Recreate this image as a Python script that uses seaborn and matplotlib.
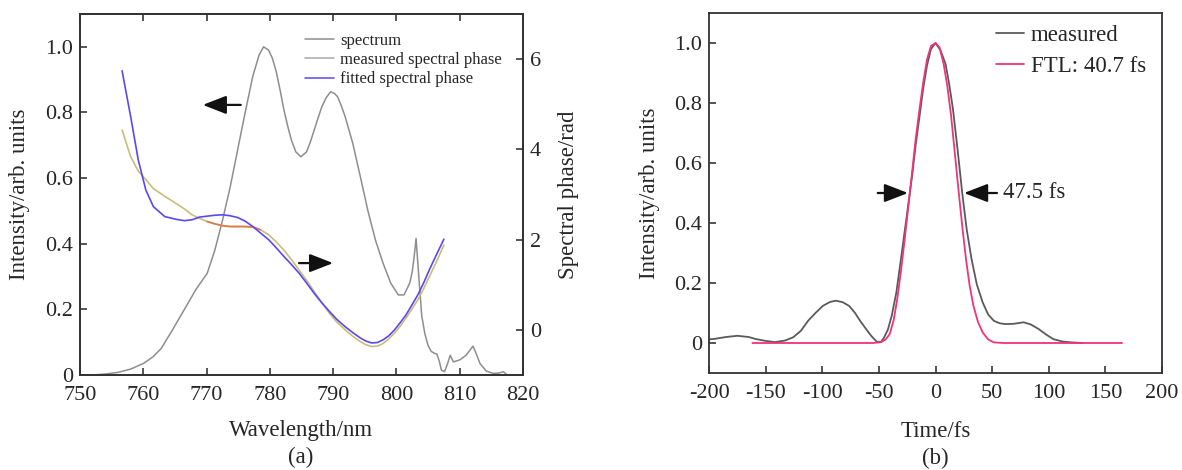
import numpy as np
import pandas as pd
import matplotlib
matplotlib.use("Agg")
import matplotlib.pyplot as plt
import seaborn as sns
from matplotlib.lines import Line2D

# ---------------- data: panel (a) ----------------
spec_wl = [752, 754, 756, 758, 760.1, 761.5, 762.8, 764.6, 766.5, 768.3, 770.1, 771.3,
           772.5, 773.7, 774.9, 776.1, 777.3, 778.3, 779.0, 779.8, 780.4, 781.0, 781.6,
           782.2, 782.8, 783.4, 784.1, 784.9, 785.8, 786.4, 787.0, 787.6, 788.2, 788.9,
           789.6, 790.2, 790.7, 791.3, 791.9, 793.1, 794.3, 795.5, 796.7, 797.9, 799.1,
           800.3, 801.2, 802.1, 802.5, 802.8, 803.1, 803.5, 804.0, 804.5, 805.0, 805.5,
           806.0, 806.4, 806.8, 807.1, 807.6, 808.0, 808.5, 809.0, 810.0, 811.0, 812.1,
           812.6, 813.2, 814.2, 815.3, 816.2, 816.9, 817.5]
spec_int = [0.0, 0.003, 0.008, 0.018, 0.036, 0.055, 0.08, 0.137, 0.20, 0.26, 0.31, 0.38,
            0.47, 0.57, 0.685, 0.80, 0.91, 0.975, 1.0, 0.99, 0.965, 0.925, 0.87,
            0.81, 0.76, 0.716, 0.68, 0.665, 0.68, 0.71, 0.746, 0.782, 0.817, 0.845,
            0.863, 0.858, 0.848, 0.82, 0.787, 0.706, 0.604, 0.50, 0.41, 0.34, 0.28,
            0.244, 0.244, 0.28, 0.315, 0.36, 0.416, 0.31, 0.18, 0.125, 0.09, 0.072,
            0.066, 0.064, 0.04, 0.015, 0.01, 0.03, 0.06, 0.04, 0.046, 0.06, 0.088,
            0.065, 0.035, 0.012, 0.005, 0.006, 0.01, 0.0]

phase_wl = [756.65, 758.0, 759.2, 760.4, 761.6, 763.4, 765.2, 766.5, 767.7, 768.9,
            770.1, 771.3, 772.5, 773.7, 774.9, 776.1, 777.3, 778.5, 779.8, 781.0,
            782.2, 783.4, 784.6, 785.8, 787.0, 788.2, 789.4, 790.6, 791.9, 793.1,
            794.3, 795.2, 796.1, 797.0, 797.9, 798.8, 799.7, 800.6, 801.5, 802.4,
            803.4, 804.3, 805.2, 806.3, 807.5]
phase_fit = [5.74, 4.73, 3.77, 3.10, 2.73, 2.51, 2.45, 2.42, 2.44, 2.50,
             2.52, 2.54, 2.55, 2.53, 2.49, 2.41, 2.29, 2.15, 2.00, 1.82,
             1.63, 1.45, 1.26, 1.04, 0.81, 0.60, 0.41, 0.23, 0.07, -0.06,
             -0.18, -0.25, -0.29, -0.28, -0.22, -0.13, 0.0, 0.16, 0.33, 0.54,
             0.78, 1.04, 1.33, 1.66, 2.01]
phase_meas = [4.43, 3.84, 3.52, 3.33, 3.13, 2.96, 2.80, 2.68, 2.55, 2.47,
              2.40, 2.35, 2.31, 2.29, 2.29, 2.29, 2.28, 2.22, 2.11, 1.95,
              1.77, 1.56, 1.33, 1.10, 0.85, 0.61, 0.37, 0.17, 0.0, -0.14,
              -0.26, -0.33, -0.37, -0.36, -0.30, -0.20, -0.07, 0.08, 0.26, 0.45,
              0.67, 0.91, 1.18, 1.50, 1.88]

# ---------------- data: panel (b) ----------------
t_meas = [-200, -194.6, -185, -175, -165, -158.5, -150, -142, -133, -125.7, -119, -112.5,
          -106, -99.4, -93, -87.9, -82, -76.4, -71, -66.6, -61, -56.8, -51.8, -48,
          -45.3, -42, -38.7, -34.5, -30.5, -25.5, -20.7, -17.5, -14.1, -10.8, -7.5, -4,
          0, 4.5, 8.9, 12, 15.4, 19.5, 23.6, 27.5, 31.8, 36.5, 41.7, 46.5, 51.5, 56.5,
          61.4, 69, 77.8, 84, 90.9, 97, 104, 112, 120, 130]
i_meas = [0.012, 0.014, 0.02, 0.024, 0.02, 0.013, 0.007, 0.003, 0.008, 0.019, 0.04, 0.074,
          0.1, 0.124, 0.137, 0.141, 0.136, 0.124, 0.1, 0.074, 0.045, 0.024, 0.004, 0.004,
          0.019, 0.045, 0.09, 0.17, 0.28, 0.42, 0.556, 0.66, 0.756, 0.85, 0.925, 0.98,
          1.0, 0.975, 0.93, 0.865, 0.78, 0.645, 0.5, 0.38, 0.28, 0.195, 0.135, 0.095, 0.074, 0.066,
          0.063, 0.064, 0.069, 0.062, 0.047, 0.03, 0.013, 0.005, 0.002, 0.0]

t_ftl = [-161.7, -120, -80, -55, -48, -44, -40.4, -37, -33.8, -30.5, -27.2, -24, -20.7,
         -17.5, -14.1, -10.8, -7.5, -4, 0, 3.6, 7.2, 10.5, 13.8, 17, 20.3, 23.6, 26.9,
         30.2, 33.5, 37.5, 41.7, 46.5, 51.5, 60, 100, 140, 164.7]
i_ftl = [0.0, 0.0, 0.0, 0.0, 0.003, 0.012, 0.03, 0.075, 0.146, 0.24, 0.346, 0.455, 0.568,
         0.68, 0.78, 0.87, 0.945, 0.99, 1.0, 0.985, 0.93, 0.855, 0.756, 0.635, 0.51, 0.39,
         0.28, 0.19, 0.124, 0.07, 0.035, 0.012, 0.002, 0.0, 0.0, 0.0, 0.0]

xticks_a = [750, 760, 770, 780, 790, 800, 810, 820]
yticks_a = [0, 0.2, 0.4, 0.6, 0.8, 1.0]
yticklabels_a = ["0", "0.2", "0.4", "0.6", "0.8", "1.0"]
yticks_a2 = [0, 2, 4, 6]
xticks_b = [-200, -150, -100, -50, 0, 50, 100, 150, 200]
xticklabels_b = ["-200", "-150", "-100", "-50", "0", "50", "100", "150", "200"]
yticks_b = [0, 0.2, 0.4, 0.6, 0.8, 1.0]

# ---------------- style ----------------
sns.set_theme(style="ticks")
plt.rcParams['font.family'] = ['Liberation Serif', 'DejaVu Serif']
plt.rcParams['axes.unicode_minus'] = False
plt.rcParams['axes.linewidth'] = 1.3
plt.rcParams['xtick.direction'] = 'in'
plt.rcParams['ytick.direction'] = 'in'

TICK_FS = 16
LAB_FS = 16.5

fig = plt.figure(figsize=(11.82, 4.70), dpi=100)
ax1 = fig.add_axes([80 / 1182, 95 / 470, 443 / 1182, 361 / 470])
ax2 = fig.add_axes([709 / 1182, 97 / 470, 453 / 1182, 360 / 470])

# ---------- panel (a) ----------
df_spec = pd.DataFrame({"wl": spec_wl, "I": spec_int})
sns.lineplot(data=df_spec, x="wl", y="I", ax=ax1, color="#8e8e8e", lw=1.1, legend=False)
ax1b = ax1.twinx()
df_ph = pd.DataFrame({"wl": phase_wl, "meas": phase_meas, "fit": phase_fit})
sns.lineplot(data=df_ph, x="wl", y="meas", ax=ax1b, color="#c9bd7a", lw=1.2, legend=False)
df_mid = df_ph[(df_ph.wl >= 770) & (df_ph.wl <= 778.6)]
sns.lineplot(data=df_mid, x="wl", y="meas", ax=ax1b, color="#e0764a", lw=1.2, legend=False)
sns.lineplot(data=df_ph, x="wl", y="fit", ax=ax1b, color="#5a48f0", lw=1.2, legend=False)

ax1.set_xlim(750, 820)
ax1.set_ylim(0, 1.1)
ax1b.set_ylim(-1, 7)
ax1.set_xticks(xticks_a)
ax1.set_yticks(yticks_a)
ax1.set_yticklabels(yticklabels_a)
ax1b.set_yticks(yticks_a2)
ax1.tick_params(axis='x', top=True, labeltop=False, length=5, width=1.1,
                labelsize=TICK_FS, pad=8)
ax1.tick_params(axis='y', length=5, width=1.1, labelsize=TICK_FS, pad=5)
ax1b.tick_params(axis='y', length=5, width=1.1, labelsize=TICK_FS, pad=5)
ax1.set_xlabel("Wavelength/nm", fontsize=LAB_FS, labelpad=11)
ax1.set_ylabel("Intensity/arb. units", fontsize=LAB_FS, labelpad=11)
ax1b.set_ylabel("Spectral phase/rad", fontsize=LAB_FS, labelpad=12)
for a in (ax1, ax1b):
    for s in a.spines.values():
        s.set_color("#333333")

h_a = [Line2D([], [], color="#8e8e8e", lw=1.1),
       Line2D([], [], color="#a8a8a8", lw=1.1),
       Line2D([], [], color="#5a48f0", lw=1.1)]
ax1.legend(h_a, ["spectrum", "measured spectral phase", "fitted spectral phase"],
           loc="upper left", bbox_to_anchor=(0.478, 0.985), frameon=False,
           fontsize=12, handlelength=1.75, handletextpad=0.35, labelspacing=0.2,
           borderpad=0.3)

arr = dict(arrowstyle="-|>,head_length=0.9,head_width=0.35", color="#111111",
           lw=1.6, mutation_scale=16, shrinkA=0, shrinkB=0)
ax1.annotate("", xy=(769.4, 0.823), xytext=(775.4, 0.823), arrowprops=arr)
ax1.annotate("", xy=(790.0, 0.341), xytext=(784.6, 0.341), arrowprops=arr)

# ---------- panel (b) ----------
df_m = pd.DataFrame({"t": t_meas, "I": i_meas})
df_f = pd.DataFrame({"t": t_ftl, "I": i_ftl})
sns.lineplot(data=df_m, x="t", y="I", ax=ax2, color="#5a5a5a", lw=1.3, label="measured")
sns.lineplot(data=df_f, x="t", y="I", ax=ax2, color="#f0337a", lw=1.3, label="FTL: 40.7 fs")
ax2.set_xlim(-200, 200)
ax2.set_ylim(-0.1, 1.1)
ax2.set_xticks(xticks_b)
ax2.set_xticklabels(xticklabels_b)
ax2.set_yticks(yticks_b)
ax2.set_yticklabels(yticklabels_a)
ax2.tick_params(axis='x', length=5, width=1.1, labelsize=TICK_FS, pad=8)
ax2.tick_params(axis='y', length=5, width=1.1, labelsize=TICK_FS, pad=5)
ax2.set_xlabel("Time/fs", fontsize=LAB_FS, labelpad=13)
ax2.set_ylabel("Intensity/arb. units", fontsize=LAB_FS, labelpad=10)
for s in ax2.spines.values():
    s.set_color("#333333")
ax2.legend(loc="upper right", bbox_to_anchor=(1.0, 1.01), frameon=False,
           fontsize=16.5, handlelength=1.2, handletextpad=0.3, labelspacing=0.4,
           borderpad=0.2)
ax2.annotate("", xy=(-24.3, 0.5), xytext=(-51, 0.5), arrowprops=arr)
ax2.annotate("", xy=(25.2, 0.5), xytext=(54.3, 0.5), arrowprops=arr)
ax2.text(59.6, 0.5, "47.5 fs", fontsize=16.5, ha="left", va="center")

fig.text(301 / 1182, 1 - 457 / 470, "(a)", fontsize=LAB_FS, ha="center", va="center")
fig.text(935 / 1182, 1 - 458 / 470, "(b)", fontsize=LAB_FS, ha="center", va="center")

fig.savefig("out.png", dpi=100, facecolor="white")
